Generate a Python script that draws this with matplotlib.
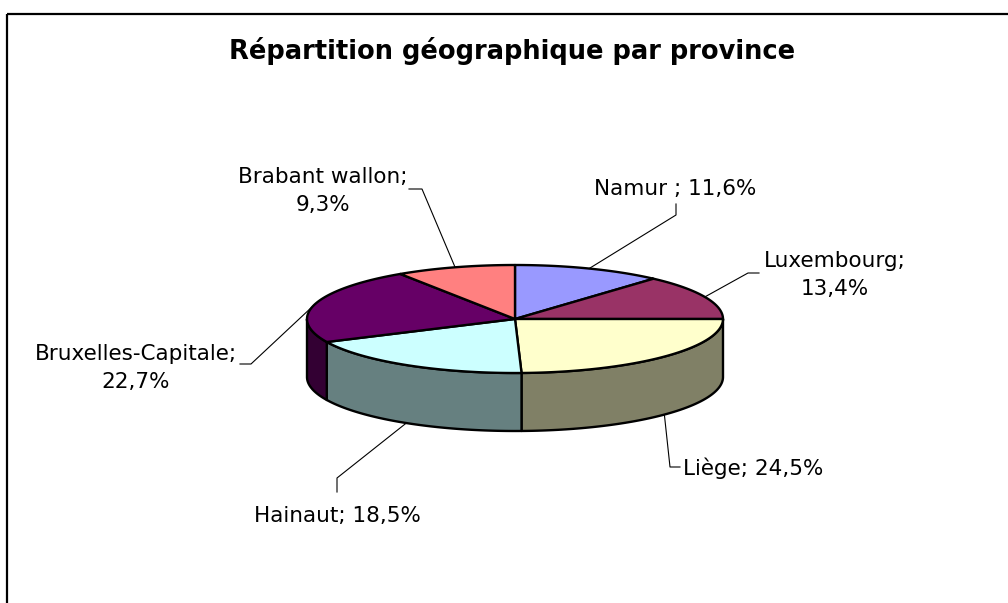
import numpy as np
import matplotlib
matplotlib.use("Agg")
import matplotlib.pyplot as plt
from matplotlib.patches import Polygon, Rectangle

# Data, clockwise from 12 o'clock
provinces = ["Namur", "Luxembourg", "Liège", "Hainaut", "Bruxelles-Capitale", "Brabant wallon"]
shares = [11.6, 13.4, 24.5, 18.5, 22.7, 9.3]
top_colors = ["#9999FF", "#993366", "#FFFFCC", "#CCFFFF", "#660066", "#FF8080"]
side_colors = ["#4D4D80", "#4D1A33", "#808066", "#668080", "#330033", "#804040"]
label_sep = [" ; ", ";\n", "; ", "; ", ";\n", ";\n"]

title = "Répartition géographique par province"

# layout (pixels, y down)
W, H = 1008, 603
cx, cy = 515, 319
rx, ry = 208, 54
depth = 58

label_pos = [(675, 195, "center"), (835, 267, "center"), (683, 475, "left"),
             (337, 522, "center"), (136, 360, "center"), (323, 183, "center")]
leader_elbows = [[(676, 215), (676, 204)], [(748, 273), (759, 273)],
                 [(670, 467), (680, 467)], [(337, 478), (337, 492)],
                 [(251, 364), (240, 364)], [(422, 189), (409, 189)]]
line_gap = 28


def ellipse_pts(t, dy=0.0):
    return np.column_stack([cx + rx * np.sin(t), cy - ry * np.cos(t) + dy])


def fmt(v):
    return f"{v:.1f}".replace(".", ",") + "%"


fig = plt.figure(figsize=(W / 100, H / 100), dpi=100)
ax = fig.add_axes([0, 0, 1, 1])
ax.set_xlim(0, W)
ax.set_ylim(H, 0)
ax.axis("off")

# chart frame (right and bottom run off the image)
ax.add_patch(Rectangle((7, 13.5), W + 50, H + 50, fill=False, lw=1.6, ec="black"))

ax.text(512, 59, title, ha="center", va="baseline", fontsize=18.5,
        fontweight="bold", family="DejaVu Sans")

total = sum(shares)
bounds = np.concatenate([[0], np.cumsum(shares)]) / total * 2 * np.pi

# side walls (front half only)
for i in range(len(shares)):
    t0 = max(bounds[i], np.pi / 2)
    t1 = min(bounds[i + 1], 3 * np.pi / 2)
    if t1 <= t0:
        continue
    t = np.linspace(t0, t1, 80)
    pts = np.vstack([ellipse_pts(t), ellipse_pts(t[::-1], depth)])
    ax.add_patch(Polygon(pts, closed=True, fc=side_colors[i], ec="black",
                         lw=1.7, joinstyle="round", zorder=2))

# top face
for i in range(len(shares)):
    t = np.linspace(bounds[i], bounds[i + 1], 120)
    pts = np.vstack([[cx, cy], ellipse_pts(t)])
    ax.add_patch(Polygon(pts, closed=True, fc=top_colors[i], ec="black",
                         lw=1.7, joinstyle="round", zorder=3))

# labels with leader lines
for i, name in enumerate(provinces):
    mid = (bounds[i] + bounds[i + 1]) / 2
    front = np.pi / 2 < mid < 3 * np.pi / 2
    anchor = ellipse_pts(np.array([mid]), depth if front else 0)[0]
    path = np.vstack([anchor] + [np.array(p) for p in leader_elbows[i]])
    ax.plot(path[:, 0], path[:, 1], color="black", lw=0.8, zorder=4)

    text = f"{name}{label_sep[i]}{fmt(shares[i])}"
    x, y, ha = label_pos[i]
    for k, line in enumerate(text.split("\n")):
        ax.text(x, y + k * line_gap, line, ha=ha, va="baseline",
                fontsize=15.5, family="DejaVu Sans", zorder=5)

fig.savefig("out.png", dpi=100)
